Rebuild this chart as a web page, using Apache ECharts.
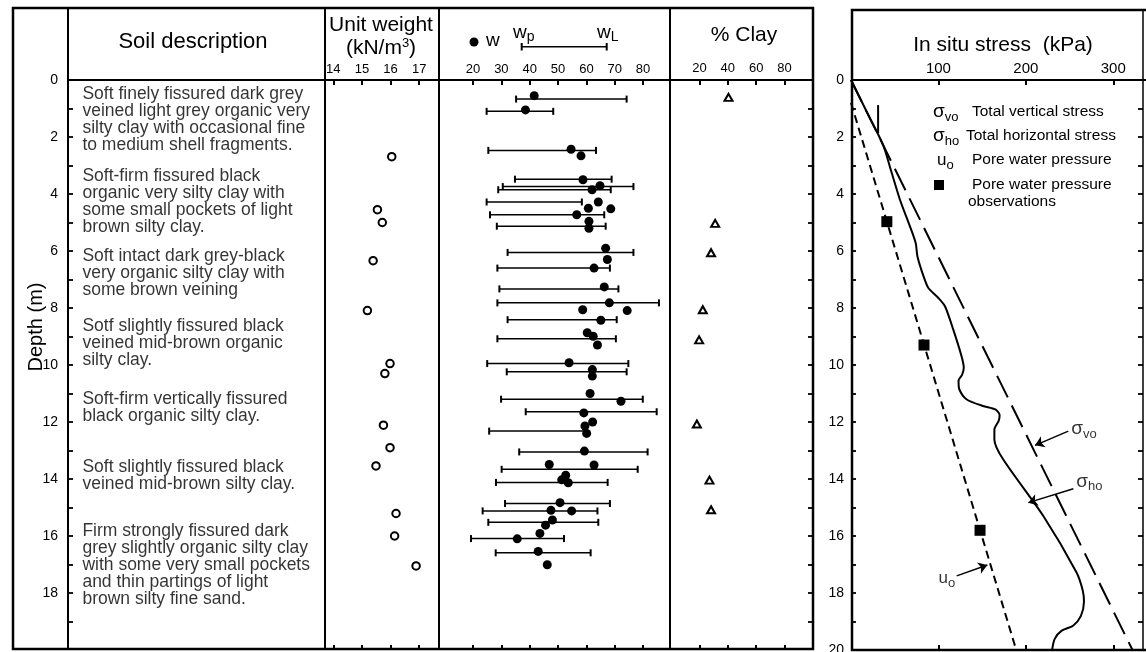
<!DOCTYPE html>
<html><head><meta charset="utf-8">
<script src="https://cdn.jsdelivr.net/npm/echarts@6/dist/echarts.min.js"></script>
<style>html,body{margin:0;padding:0;background:#fff}#c{width:1146px;height:652px}</style>
</head><body><div id="c"></div>
<script>
// ---------------- data ----------------
const depthLabelsLeft = [0,2,4,6,8,10,12,14,16,18];
const depthLabelsRight = [0,2,4,6,8,10,12,14,16,18,20];
const depthTickMarks = [1,2,3,4,5,6,7,8,9,10,11,12,13,14,15,16,17,18,19];
const unitWeightTicks = [14,15,16,17];
const moistureTicks = [20,30,40,50,60,70,80];
const clayTicks = [20,40,60,80];
const stressTicks = [100,200,300];

const soilDepth = [0.22, 3.08, 5.89, 8.34, 10.93, 13.3, 15.56];
const soilText = [
  "Soft finely fissured dark grey\nveined light grey organic very\nsilty clay with occasional fine\nto medium shell fragments.",
  "Soft-firm fissured black\norganic very silty clay with\nsome small pockets of light\nbrown silty clay.",
  "Soft intact dark grey-black\nvery organic silty clay with\nsome brown veining",
  "Sotf slightly fissured black\nveined mid-brown organic\nsilty clay.",
  "Soft-firm vertically fissured\nblack organic silty clay.",
  "Soft slightly fissured black\nveined mid-brown silty clay.",
  "Firm strongly fissured dark\ngrey slightly organic silty clay\nwith some very small pockets\nand thin partings of light\nbrown silty fine sand."
];

const unitWeightDepth = [2.69,4.55,5.0,6.34,8.09,9.95,10.3,12.11,12.9,13.54,15.21,16.0,17.05];
const unitWeight      = [16.04,15.54,15.71,15.39,15.19,15.98,15.80,15.75,15.98,15.49,16.19,16.14,16.89];

const wDepth = [0.55,1.05,2.43,2.66,3.5,3.71,3.85,4.28,4.52,4.5,4.73,4.96,5.2,5.9,6.3,6.6,7.26,7.82,8.06,8.09,8.43,8.87,8.99,9.3,9.92,10.16,10.39,11.0,11.27,11.68,12.0,12.14,12.4,13.02,13.49,13.51,13.87,14.03,14.13,14.83,15.1,15.12,15.44,15.62,15.91,16.1,16.54,17.01];
const wValue = [41.6,38.5,54.6,58.1,58.8,64.8,62.0,64.2,68.6,60.7,56.6,60.9,60.9,66.8,67.4,62.7,66.3,68.1,58.7,74.4,65.1,60.3,62.4,63.9,53.9,62.1,62.1,61.3,72.2,59.1,62.2,59.5,60.1,59.3,46.9,62.7,52.7,51.3,53.6,50.7,47.5,54.8,48.0,45.6,43.6,35.6,43.0,46.2];

const limitDepth = [0.67,1.1,2.47,3.48,3.74,3.85,4.28,4.73,5.13,6.05,6.6,7.33,7.82,8.41,9.08,9.95,10.24,11.2,11.64,12.32,13.05,13.66,14.12,14.86,15.12,15.52,16.09,16.59];
const plasticLimit = [35.2,24.8,25.4,34.8,30.5,28.9,24.8,26.0,28.4,32.2,28.6,29.3,28.6,32.2,28.6,25.0,31.9,29.9,38.6,25.7,36.3,30.1,28.1,31.3,23.4,25.4,19.3,28.0];
const liquidLimit  = [74.2,48.3,63.4,68.9,76.6,68.6,58.4,66.3,66.8,76.6,68.3,71.3,85.6,70.7,70.4,74.8,74.2,79.9,84.8,59.5,81.6,78.1,67.5,68.3,63.9,64.2,52.1,61.5];

const clayDepth = [0.61,5.03,6.06,8.06,9.12,12.07,14.04,15.08];
const clayPct   = [40.5,31.1,28.2,22.4,19.8,18.2,27.1,28.2];

const sigmaVDepth = [0, 20];
const sigmaV      = [0, 322];
const sigmaHDepth = [0,1.2,2.3,3.2,4.2,5.1,5.72,6.19,6.89,7.3,7.65,7.94,8.76,9.7,10.1,10.35,10.55,10.86,11.2,11.44,11.56,11.75,11.95,12.26,12.61,13.31,15.3,17.28,17.9,18.3,18.8,19.15,19.32,19.61,20];
const sigmaH      = [0,19.4,37,46,56,67,74,76,83,88.5,100,107.5,117,126.5,129,127,123,124,132,151,165,170,169,164,164,174,220,258,265,266.5,263,254,241,233,230];
const poreDepth = [0.8, 20];
const pore      = [0, 189];
const poreObsDepth = [4.97, 9.3, 15.8];
const poreObs      = [41, 83.5, 147.6];
const waterMarkDepth = [0.88, 1.86];
const waterMark      = [31, 31];

// ---------------- chart ----------------
const FONT = '"Liberation Sans", Arial, Helvetica, sans-serif';
const TOP = 80, H = 570;
const zip = (a, b) => a.map((v, i) => [v, b[i]]);
function g(left, width) { return {left, width, top: TOP, height: H, show: false, containLabel: false, outerBoundsMode: 'none'}; }
function xTop(gi, min, max, ticks, fs, margin) {
  return {gridIndex: gi, type: 'value', position: 'top', min, max,
    axisLine: {show: false, onZero: false}, splitLine: {show: false},
    axisTick: {show: true, inside: true, length: 5, customValues: ticks, lineStyle: {color: '#000', width: 2}},
    axisLabel: {show: true, customValues: ticks, margin, fontSize: fs, color: '#000', fontFamily: FONT}};
}
function xBot(gi, min, max, ticks) {
  return {gridIndex: gi, type: 'value', position: 'bottom', min, max,
    axisLine: {show: false, onZero: false}, splitLine: {show: false},
    axisTick: {show: true, inside: true, length: 5, customValues: ticks, lineStyle: {color: '#000', width: 2}},
    axisLabel: {show: false}};
}
function yDepth(gi, pos, labels, margin, fs) {
  return {gridIndex: gi, type: 'value', position: pos, inverse: true, min: 0, max: 20,
    axisLine: {show: false, onZero: false}, splitLine: {show: false},
    axisTick: {show: true, inside: true, length: 5, customValues: depthTickMarks, lineStyle: {color: '#000', width: 1.8}},
    axisLabel: labels ? {show: true, customValues: labels, margin, fontSize: fs, color: '#000', fontFamily: FONT} : {show: false}};
}
function yHidden(gi) { return {gridIndex: gi, type: 'value', inverse: true, min: 0, max: 20, show: false, axisLine: {onZero: false}}; }

const subRich = {
  g: {fontSize: 19, fontFamily: FONT, color: '#000'},
  u: {fontSize: 17, fontFamily: FONT, color: '#000'},
  s: {fontSize: 13, fontFamily: FONT, color: '#000', padding: [10, 0, 0, 0]}
};

const annot = [
  {value: [251.5, 12.25], label: {formatter: '{g|σ}{s|vo}'}},
  {value: [257, 14.1], label: {formatter: '{g|σ}{s|ho}'}},
  {value: [99.5, 17.5], label: {formatter: '{u|u}{s|o}'}}
];

const L = (x1, y1, x2, y2, w) => ({type: 'line', silent: true, z: 50, shape: {x1, y1, x2, y2}, style: {stroke: '#000', lineWidth: w || 2}});
const T = (x, y, text, fs, align, extra) => ({type: 'text', silent: true, z: 50, x, y,
  style: Object.assign({text, fontSize: fs, fontFamily: FONT, fill: '#000', align: align || 'center', verticalAlign: 'middle'}, extra || {})});

const graphic = [
  {type: 'rect', silent: true, z: 50, shape: {x: 13, y: 8, width: 800, height: 641}, style: {stroke: '#000', fill: 'none', lineWidth: 2.5}},
  L(68, 8, 68, 649), L(325, 8, 325, 649), L(439, 8, 439, 649), L(670, 8, 670, 649),
  L(68, 80, 813, 80),
  {type: 'polyline', silent: true, z: 50, shape: {points: [[1146, 10], [852, 10], [852, 650], [1146, 650]]}, style: {stroke: '#000', fill: 'none', lineWidth: 2.5}},
  L(1143, 10, 1143, 650, 1.5),
  L(852, 80, 1146, 80),
  T(193, 42, 'Soil description', 22),
  T(381, 25, 'Unit weight', 21),
  T(381, 48, '{t|(kN/m}{p|3}{t|)}', 21, 'center', {rich: {t: {fontSize: 21, fontFamily: FONT}, p: {fontSize: 13, fontFamily: FONT, padding: [0, 0, 10, 0]}}}),
  T(744, 35, '% Clay', 21),
  T(1003, 45, 'In situ stress  (kPa)', 21),
  {type: 'text', silent: true, z: 50, x: 36, y: 327, rotation: Math.PI / 2,
    style: {text: 'Depth (m)', fontSize: 20, fontFamily: FONT, fill: '#000', align: 'center', verticalAlign: 'middle'}},
  // moisture header key
  {type: 'circle', silent: true, z: 50, shape: {cx: 474, cy: 42, r: 4.5}, style: {fill: '#000'}},
  T(486, 41, 'w', 19, 'left'),
  T(513, 33, '{w|w}{p|p}', 19, 'left', {rich: {w: {fontSize: 19, fontFamily: FONT}, p: {fontSize: 14, fontFamily: FONT, padding: [8, 0, 0, 0]}}}),
  T(597, 33, '{w|w}{p|L}', 19, 'left', {rich: {w: {fontSize: 19, fontFamily: FONT}, p: {fontSize: 14, fontFamily: FONT, padding: [8, 0, 0, 0]}}}),
  L(521.7, 46.7, 606.7, 46.7, 1.5), L(521.7, 43, 521.7, 50.5, 2), L(606.7, 43, 606.7, 50.5, 2),
  // stress legend
  T(933, 112, '{g|σ}{s|vo}', 19, 'left', {rich: subRich}),
  T(972, 112, 'Total vertical stress', 15.5, 'left'),
  T(933, 136, '{g|σ}{s|ho}', 19, 'left', {rich: subRich}),
  T(966, 136, 'Total horizontal stress', 15.5, 'left'),
  T(937, 160, '{u|u}{s|o}', 17, 'left', {rich: subRich}),
  T(972, 160, 'Pore water pressure', 15.5, 'left'),
  {type: 'rect', silent: true, z: 50, shape: {x: 934, y: 180, width: 10, height: 10}, style: {fill: '#000'}},
  T(972, 185, 'Pore water pressure', 15.5, 'left'),
  T(968, 202, 'observations', 15.5, 'left')
];

const option = {
  animation: false,
  backgroundColor: '#fff',
  textStyle: {fontFamily: FONT, color: '#000'},
  grid: [g(68, 257), g(325, 114), g(439, 231), g(671, 142), g(851, 292)],
  xAxis: [
    {gridIndex: 0, type: 'value', min: 0, max: 1, show: false, axisLine: {onZero: false}},
    xTop(1, 13.71, 17.69, unitWeightTicks, 13, 4), xBot(1, 13.71, 17.69, unitWeightTicks),
    xTop(2, 8, 89.5, moistureTicks, 13, 4), xBot(2, 8, 89.5, moistureTicks),
    xTop(3, 0, 100, clayTicks, 13, 5), xBot(3, 0, 100, clayTicks),
    xTop(4, 0, 334, stressTicks, 15, 4), xBot(4, 0, 334, stressTicks)
  ],
  yAxis: [
    yDepth(0, 'left', depthLabelsLeft, 10, 14),
    yHidden(1), yHidden(2),
    yDepth(3, 'right', null),
    yDepth(4, 'left', depthLabelsRight, 7, 14),
    yDepth(4, 'right', null)
  ],
  series: [
    {type: 'scatter', name: 'soil', xAxisIndex: 0, yAxisIndex: 0, symbolSize: 1, silent: true,
      itemStyle: {color: 'transparent'},
      data: soilDepth.map((d, i) => ({value: [0.058, d], label: {formatter: soilText[i]}})),
      label: {show: true, position: [0, 0], align: 'left', verticalAlign: 'top', fontSize: 17.5, lineHeight: 17, color: '#000', fontFamily: FONT}},
    {type: 'scatter', name: 'unit weight', xAxisIndex: 1, yAxisIndex: 1, symbol: 'emptyCircle', symbolSize: 7.5,
      itemStyle: {color: '#000', borderWidth: 2, opacity: 1}, data: zip(unitWeight, unitWeightDepth)},
    {type: 'custom', name: 'limits', xAxisIndex: 3, yAxisIndex: 2,
      data: limitDepth.map((d, i) => [d, plasticLimit[i], liquidLimit[i]]),
      encode: {x: [1, 2], y: 0},
      renderItem: (params, api) => {
        const d = api.value(0), a = api.coord([api.value(1), d]), b = api.coord([api.value(2), d]);
        const c = 3.5;
        return {type: 'group', children: [
          {type: 'line', shape: {x1: a[0], y1: a[1], x2: b[0], y2: b[1]}, style: {stroke: '#000', lineWidth: 1.5}},
          {type: 'line', shape: {x1: a[0], y1: a[1] - c, x2: a[0], y2: a[1] + c}, style: {stroke: '#000', lineWidth: 2}},
          {type: 'line', shape: {x1: b[0], y1: b[1] - c, x2: b[0], y2: b[1] + c}, style: {stroke: '#000', lineWidth: 2}}
        ]};
      }},
    {type: 'scatter', name: 'w', xAxisIndex: 3, yAxisIndex: 2, symbol: 'circle', symbolSize: 9,
      itemStyle: {color: '#000', opacity: 1}, data: zip(wValue, wDepth), z: 5},
    {type: 'scatter', name: 'clay', xAxisIndex: 5, yAxisIndex: 3, symbol: 'emptyTriangle', symbolSize: [8, 7],
      itemStyle: {color: '#000', borderWidth: 1.5, opacity: 1}, data: zip(clayPct, clayDepth)},
    {type: 'line', name: 'sigma vo', xAxisIndex: 7, yAxisIndex: 4, showSymbol: false, symbol: 'none',
      lineStyle: {color: '#000', width: 2, type: [24, 9]}, data: zip(sigmaV, sigmaVDepth)},
    {type: 'line', name: 'sigma ho', xAxisIndex: 7, yAxisIndex: 4, showSymbol: false, symbol: 'none', smooth: 0.25,
      lineStyle: {color: '#000', width: 2}, data: zip(sigmaH, sigmaHDepth)},
    {type: 'line', name: 'u0', xAxisIndex: 7, yAxisIndex: 4, showSymbol: false, symbol: 'none',
      lineStyle: {color: '#000', width: 2, type: [8, 5]}, data: zip(pore, poreDepth),
      markLine: {silent: true, symbol: ['none', 'arrow'], symbolSize: 9, label: {show: false},
        lineStyle: {color: '#000', width: 1.5, type: 'solid'},
        data: [
          [{coord: [248.6, 12.32]}, {coord: [210.5, 12.82]}],
          [{coord: [254.3, 14.34]}, {coord: [202.9, 14.83]}],
          [{coord: [120.9, 17.4]}, {coord: [156, 17.02]}]
        ]}},
    {type: 'line', name: 'water mark', xAxisIndex: 7, yAxisIndex: 4, showSymbol: false, symbol: 'none',
      lineStyle: {color: '#000', width: 2}, data: zip(waterMark, waterMarkDepth)},
    {type: 'scatter', name: 'pwp obs', xAxisIndex: 7, yAxisIndex: 4, symbol: 'rect', symbolSize: 11,
      itemStyle: {color: '#000', opacity: 1}, data: zip(poreObs, poreObsDepth), z: 6},
    {type: 'scatter', name: 'labels', xAxisIndex: 7, yAxisIndex: 4, symbolSize: 1, silent: true,
      itemStyle: {color: 'transparent'}, data: annot,
      label: {show: true, position: 'right', distance: 0, rich: subRich}}
  ],
  graphic
};
const chart = echarts.init(document.getElementById('c'), null, {renderer: 'canvas'});
chart.setOption(option);
</script></body></html>
